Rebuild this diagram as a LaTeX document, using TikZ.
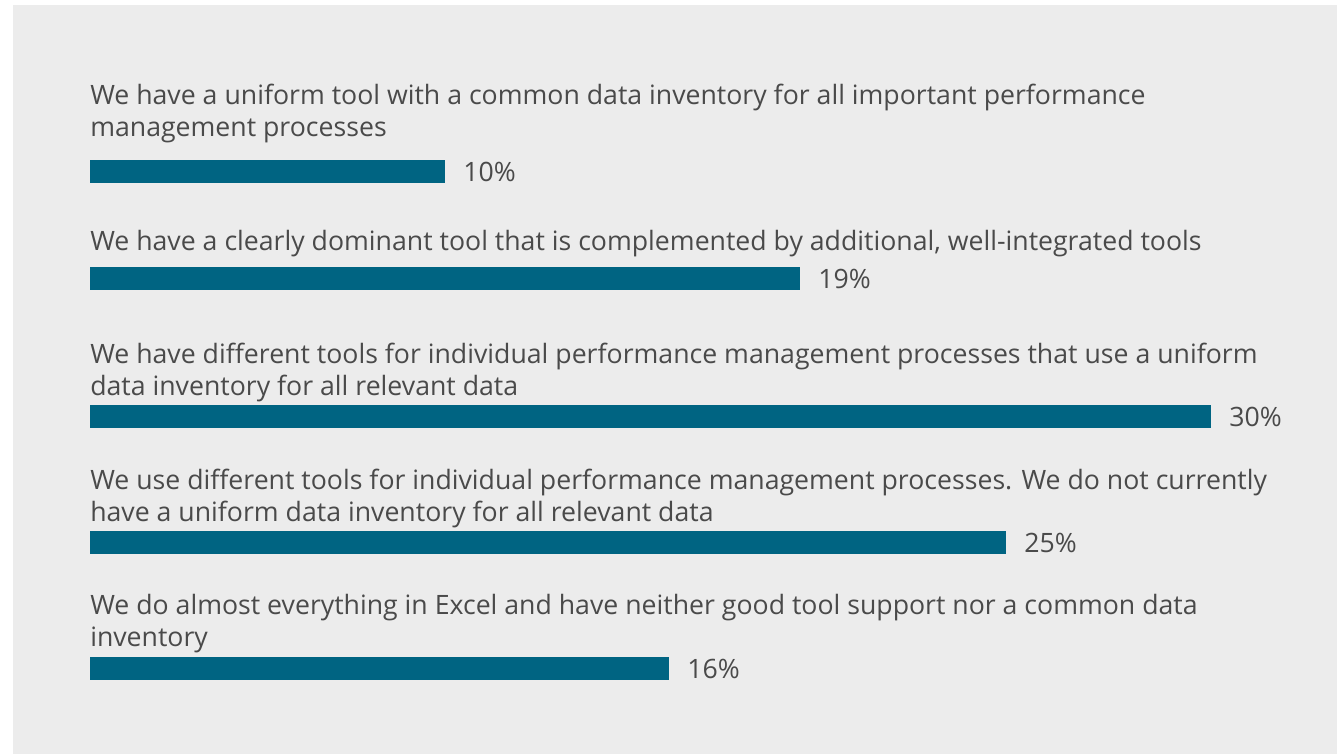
\documentclass[tikz,border=0pt]{standalone}
\usepackage{fontspec}
\setmainfont{Open Sans}
\definecolor{barblue}{HTML}{006482}
\definecolor{panelgray}{HTML}{ECECEC}
\definecolor{inkgray}{HTML}{4A4A4A}
\begin{document}
\begin{tikzpicture}[x=0.75pt, y=-0.75pt, font=\fontsize{20}{24}\selectfont, text=inkgray,
	question/.style={anchor=base west, align=left, inner sep=0pt},
	pct/.style={anchor=west, inner sep=0pt}]
	\def \xbar{90};
	\def \barh{23};
	\useasboundingbox (0,0) rectangle (1337,754);
	\fill[panelgray] (13,5) rectangle (1337,754);
	% questions (anchored at the baseline of the last line)
	\node[question] (q1) at (\xbar,136) {We have a uniform tool with a common data inventory for all important performance\\management processes};
	\node[question] (q2) at (\xbar,250) {We have a clearly dominant tool that is complemented by additional, well-integrated tools};
	\node[question] (q3) at (\xbar,395) {We have different tools for individual performance management processes that use a uniform\\data inventory for all relevant data};
	\node[question] (q4) at (\xbar,521) {We use different tools for individual performance management processes. We do not currently\\have a uniform data inventory for all relevant data};
	\node[question] (q5) at (\xbar,646) {We do almost everything in Excel and have neither good tool support nor a common data\\inventory};
	% bars
	\foreach \ytop/\xend/\val [count=\i] in {160/445/10, 267/800/19, 405/1211/30, 531/1006/25, 657/669/16}{
		\fill[barblue] (\xbar,\ytop) rectangle (\xend,\ytop+\barh) coordinate (bar\i);
		\node[pct] (pct\i) at (\xend+18,\ytop+\barh/2) {\val\%};
	}
\end{tikzpicture}
\end{document}
